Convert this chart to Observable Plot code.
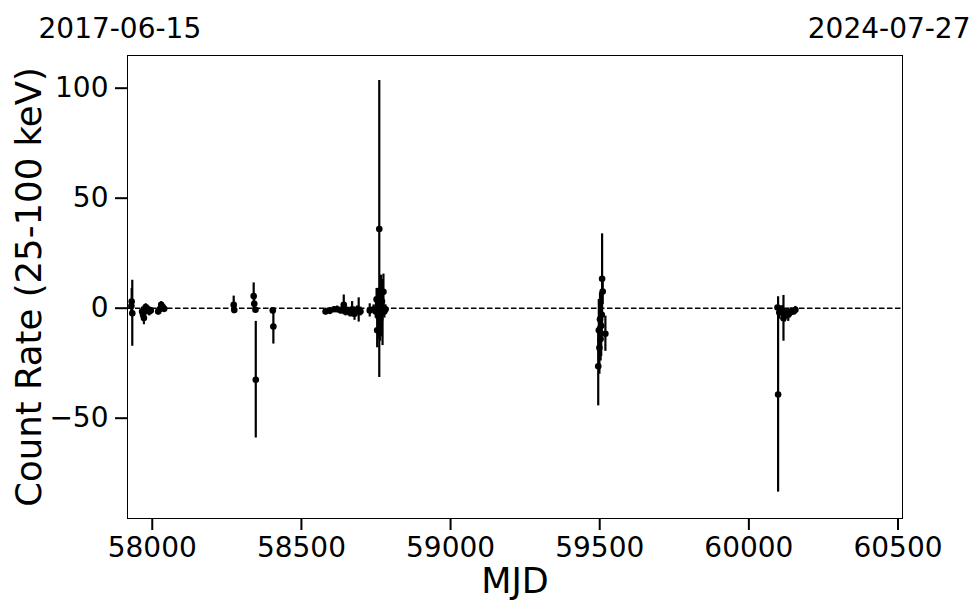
<!DOCTYPE html>
<html>
<head>
<meta charset="utf-8">
<script src="https://cdn.jsdelivr.net/npm/d3@7"></script>
<script src="https://cdn.jsdelivr.net/npm/@observablehq/plot@0.6"></script>
<style>
  html, body { margin: 0; padding: 0; background: #fff; }
  #chart svg { display: block; }
</style>
</head>
<body>
<div id="chart"></div>
<script>
// ---- data ----
const mjd = [
  57930, 57931, 57933,
  57966, 57969, 57972, 57975, 57978, 57982, 57986, 57990, 57995,
  58020, 58025, 58030, 58035, 58040,
  58273, 58275,
  58340, 58342, 58346, 58347,
  58404, 58406,
  58581, 58595, 58610, 58620, 58632, 58642, 58648, 58655, 58662, 58670, 58678, 58686, 58692, 58698,
  58729, 58742, 58749, 58752, 58754, 58757, 58759, 58761, 58764, 58767, 58770, 58772, 58775, 58778, 58782,
  59495, 59497, 59499, 59501, 59503, 59505, 59507, 59508, 59510, 59519,
  60096, 60098, 60102, 60106, 60112, 60116, 60120, 60126, 60132, 60140, 60150, 60156
];
const rate = [
  1.0, 3.0, -2.3,
  -1.5, -3.0, -4.5, -1.5, 0.5, -1.0, -0.5, -1.5, -1.0,
  -1.5, -0.5, 1.5, 0.5, -0.3,
  1.5, -0.8,
  5.5, 2.0, -0.7, -32.5,
  -1.0, -8.3,
  -1.5, -1.2, -0.5, -0.5, -1.0, 1.5, -1.5, -1.0, -2.0, -0.5, -2.5, -1.0, -0.8, -1.5,
  -1.0, -0.5, -1.5, 4.0, -10.0, 2.0, -4.0, 36.0, -5.0, 1.0, 3.0, -2.0, 7.5, -1.5, -0.5,
  -26.4, -10, -18, -5, -14, -8, -3, 13.4, 7.6, -11.6,
  0.3, -39.2, -2, -1, -1.8, -4.6, -3.3, -2.5, -3, -1.8, -1.5, -0.7
];
const err = [
  3, 6, 15,
  2, 2.5, 3, 2, 1.5, 1.5, 1.5, 2, 1,
  1.5, 1.5, 1.5, 1.5, 1,
  4, 1.5,
  6, 3, 1, 26.5,
  1, 8,
  1.5, 1.5, 1, 1.5, 1.5, 4.5, 2, 1.5, 2, 3.5, 3, 2, 5.5, 2,
  3, 2, 3, 5, 8, 7, 10, 67.5, 10, 14, 10, 15, 8, 3, 2,
  18, 14, 12, 12, 10, 14, 10, 20.4, 6, 8,
  1, 44.4, 3, 2, 3, 10.4, 3, 2, 3, 2, 1.5, 1.5
];
const xTicks = [58000, 58500, 59000, 59500, 60000, 60500];
const yTicks = [-50, 0, 50, 100];
const dateLeft = "2017-06-15";
const dateRight = "2024-07-27";
const xLabel = "MJD";
const yLabel = "Count Rate (25-100 keV)";

const data = mjd.map((m, i) => ({mjd: m, rate: rate[i], err: err[i]}));

const W = 980, H = 613;
const mL = 127, mR = 78, mT = 55, mB = 95;
const font = "DejaVu Sans";

const chart = Plot.plot({
  width: W,
  height: H,
  marginLeft: mL,
  marginRight: mR,
  marginTop: mT,
  marginBottom: mB,
  style: {fontFamily: font, fontSize: "28px", background: "#fff", color: "#000"},
  x: {domain: [57917, 60515], label: null},
  y: {domain: [-95.59, 114.86], label: null},
  marks: [
    Plot.ruleY([0], {stroke: "#000", strokeWidth: 1.5, strokeDasharray: "5.5,2.5"}),
    Plot.ruleX(data, {x: "mjd", y1: d => d.rate - d.err, y2: d => d.rate + d.err, stroke: "#000", strokeWidth: 2.2}),
    Plot.dot(data, {x: "mjd", y: "rate", r: 3.3, fill: "#000", stroke: "none"}),
    Plot.frame({stroke: "#000", strokeWidth: 1}),
    Plot.axisX({ticks: xTicks, tickSize: 12, tickPadding: 7, strokeWidth: 2, fontSize: 28, tickFormat: d => String(d), label: null}),
    Plot.axisY({ticks: yTicks, tickSize: 12, tickPadding: 7, strokeWidth: 2, fontSize: 28, tickFormat: d => d < 0 ? "\u2212" + (-d) : String(d), label: null}),
    Plot.text([dateLeft], {frameAnchor: "top-left", text: d => d, textAnchor: "start", dx: -89, dy: -37, fontSize: 28, fill: "#000"}),
    Plot.text([dateRight], {frameAnchor: "top-right", text: d => d, textAnchor: "end", dx: 68, dy: -37, fontSize: 28, fill: "#000"}),
    Plot.text([xLabel], {frameAnchor: "bottom", text: d => d, dy: 74, fontSize: 35, fill: "#000"}),
    Plot.text([yLabel], {frameAnchor: "left", text: d => d, textAnchor: "middle", rotate: -90, dx: -98, fontSize: 35.5, fill: "#000"})
  ]
});
document.getElementById("chart").appendChild(chart);
</script>
</body>
</html>
